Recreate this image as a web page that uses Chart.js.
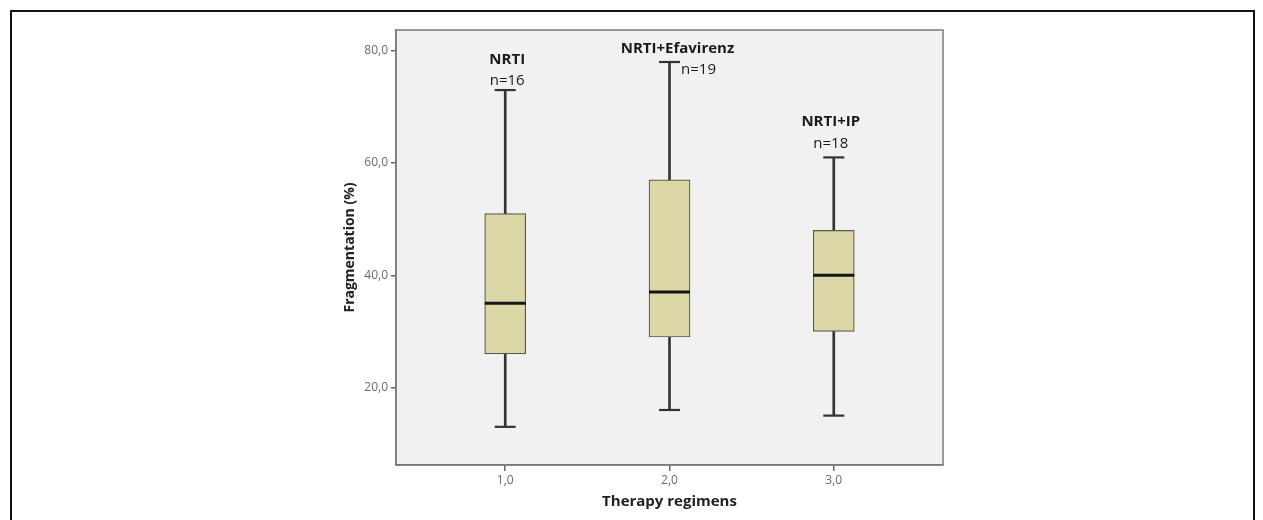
<!DOCTYPE html>
<html>
<head>
<meta charset="utf-8">
<script src="https://cdn.jsdelivr.net/npm/chart.js@4/dist/chart.umd.min.js"></script>
<style>
  html, body { margin: 0; padding: 0; background: #fff; overflow: hidden; }
  #frame { position: absolute; left: 10px; top: 10px; width: 1241px; height: 540px; border: 2px solid #111; }
  #wrap { position: absolute; left: 0; top: 0; width: 1263px; height: 520px; }
</style>
</head>
<body>
<div id="frame"></div>
<div id="wrap"><canvas id="boxChart"></canvas></div>
<script>
// data
const groups = [1, 2, 3];
const groupNames = ['NRTI', 'NRTI+Efavirenz', 'NRTI+IP'];
const groupN = ['n=16', 'n=19', 'n=18'];
const mins = [13, 16, 15];
const q1s = [26, 29, 30];
const medians = [35, 37, 40];
const q3s = [51, 57, 48];
const maxs = [73, 78, 61];
const xTicks = [1, 2, 3];
const yTicks = [20, 40, 60, 80];

const FONT = '"Open Sans", "Liberation Sans", sans-serif';

// label placement relative to the upper whisker cap (pixels)
const labelLayout = [
  { nameDx: 2, nameDy: -30, nDx: 2, nDy: -9 },
  { nameDx: 8, nameDy: -13, nDx: 29, nDy: 8 },
  { nameDx: -3, nameDy: -36, nDx: -3, nDy: -14 }
];

const fmt = v => v.toFixed(1).replace('.', ',');

// grey background and frame of the plot area
const plotFrame = {
  id: 'plotFrame',
  beforeDraw(chart) {
    const { ctx, chartArea: a } = chart;
    ctx.save();
    ctx.fillStyle = '#f1f1f1';
    ctx.fillRect(a.left, a.top, a.right - a.left, a.bottom - a.top);
    ctx.restore();
  },
  afterDraw(chart) {
    const { ctx, chartArea: a } = chart;
    ctx.save();
    ctx.strokeStyle = '#7a7a7a';
    ctx.lineWidth = 1.5;
    ctx.strokeRect(a.left, a.top, a.right - a.left, a.bottom - a.top);
    ctx.restore();
  }
};

// group names and counts above each box
const groupLabels = {
  id: 'groupLabels',
  afterDatasetsDraw(chart) {
    const { ctx, scales: { x, y } } = chart;
    ctx.save();
    ctx.textAlign = 'center';
    ctx.textBaseline = 'middle';
    ctx.fillStyle = '#1a1a1a';
    groups.forEach((g, i) => {
      const px = x.getPixelForValue(g);
      const py = y.getPixelForValue(maxs[i]);
      const l = labelLayout[i];
      ctx.font = 'bold 15px ' + FONT;
      ctx.fillText(groupNames[i], px + l.nameDx, py + l.nameDy);
      ctx.font = '15px ' + FONT;
      ctx.fillText(groupN[i], px + l.nDx, py + l.nDy);
    });
    ctx.restore();
  }
};

const ctx = document.getElementById('boxChart').getContext('2d');
new Chart(ctx, {
  type: 'bar',
  data: {
    datasets: [
      {
        label: 'median',
        type: 'line',
        showLine: false,
        data: groups.map((g, i) => ({ x: g, y: medians[i] })),
        pointStyle: 'line',
        pointRadius: 20.5,
        pointBorderWidth: 3,
        pointBorderColor: '#151515',
        order: 0
      },
      {
        label: 'caps',
        type: 'line',
        showLine: false,
        data: groups.flatMap((g, i) => [{ x: g, y: mins[i] }, { x: g, y: maxs[i] }]),
        pointStyle: 'line',
        pointRadius: 10.5,
        pointBorderWidth: 2.2,
        pointBorderColor: '#333',
        order: 1
      },
      {
        label: 'box',
        data: groups.map((g, i) => ({ x: g, y: [q1s[i], q3s[i]] })),
        backgroundColor: '#dbd7a6',
        borderColor: '#5a5a4a',
        borderWidth: 1.2,
        borderSkipped: false,
        barThickness: 41,
        stack: 'g',
        order: 2
      },
      {
        label: 'whisker',
        data: groups.map((g, i) => ({ x: g, y: [mins[i], maxs[i]] })),
        backgroundColor: '#333',
        borderWidth: 0,
        barThickness: 2,
        stack: 'g',
        order: 3
      }
    ]
  },
  options: {
    responsive: true,
    maintainAspectRatio: false,
    animation: false,
    events: [],
    layout: { padding: { left: 330, right: 320, top: 30, bottom: 0 } },
    plugins: {
      legend: { display: false },
      tooltip: { enabled: false }
    },
    scales: {
      x: {
        type: 'linear',
        min: 0.335,
        max: 3.665,
        offset: false,
        afterBuildTicks: scale => { scale.ticks = xTicks.map(v => ({ value: v })); },
        afterFit: scale => { scale.height = 55; },
        grid: { offset: false, drawOnChartArea: false, tickLength: 6, color: '#666', lineWidth: 1.5 },
        border: { color: '#7a7a7a', width: 1.5 },
        ticks: {
          padding: 2,
          color: '#6a6a6a',
          font: { family: FONT, size: 12 },
          callback: v => fmt(v)
        },
        title: {
          display: true,
          text: 'Therapy regimens',
          color: '#222',
          font: { family: FONT, size: 15, weight: 'bold' },
          padding: { top: 0, bottom: 9 }
        }
      },
      y: {
        min: 6.2,
        max: 83.7,
        stacked: false,
        afterBuildTicks: scale => { scale.ticks = yTicks.map(v => ({ value: v })); },
        afterFit: scale => { scale.width = 66; },
        grid: { drawOnChartArea: false, tickLength: 5, color: '#666', lineWidth: 1.5 },
        border: { color: '#7a7a7a', width: 1.5 },
        ticks: {
          padding: 3,
          color: '#6a6a6a',
          font: { family: FONT, size: 12 },
          callback: v => fmt(v)
        },
        title: {
          display: true,
          text: 'Fragmentation (%)',
          color: '#222',
          font: { family: FONT, size: 14, weight: 'bold' },
          padding: { top: 12, bottom: 0 }
        }
      }
    }
  },
  plugins: [plotFrame, groupLabels]
});
</script>
</body>
</html>
